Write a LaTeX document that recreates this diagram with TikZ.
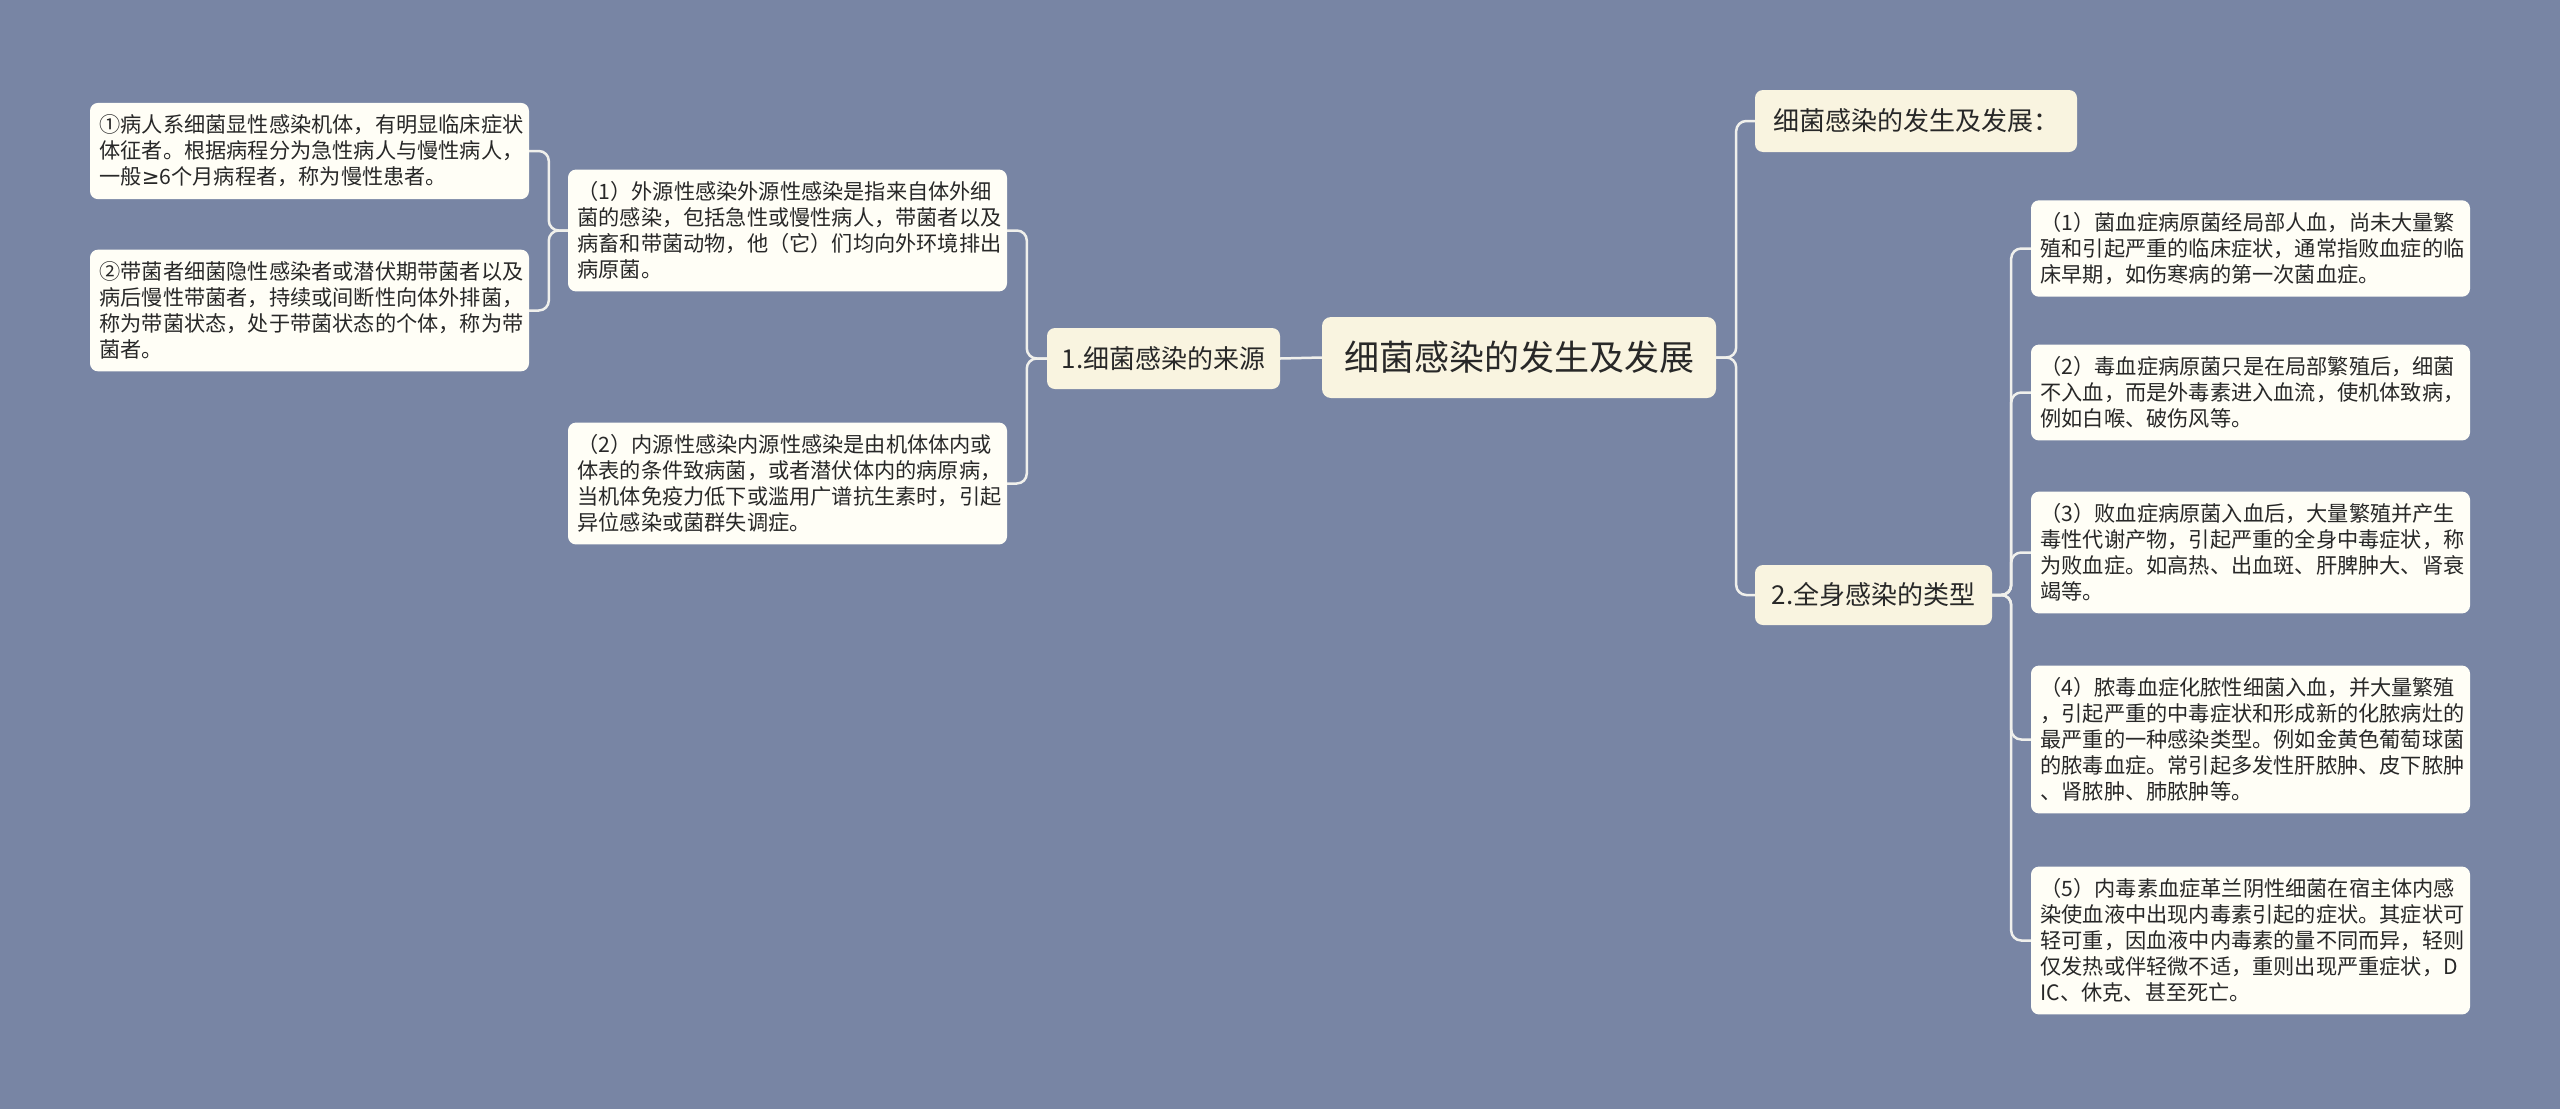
\documentclass[tikz,border=0pt]{standalone}
\usepackage{fontspec}
\newfontfamily\cjk{Noto Sans CJK SC}
\newfontfamily\symf{DejaVu Sans}
\definecolor{bg}{RGB}{120,133,164}
\definecolor{midfill}{RGB}{249,244,224}
\definecolor{leaffill}{RGB}{255,254,246}
\definecolor{linec}{RGB}{240,240,236}
\definecolor{txt}{RGB}{40,40,40}
\tikzset{
  leaf/.style={fill=leaffill, rounded corners=8pt, text width=420pt, inner xsep=9.5pt, inner ysep=12pt, align=left, text=txt, font=\cjk\fontsize{21.2}{26}\selectfont},
  mid/.style={fill=midfill, rounded corners=8pt, minimum height=61pt, inner xsep=12pt, text=txt, font=\cjk\fontsize{26}{30}\selectfont},
  rootbox/.style={fill=midfill, rounded corners=9pt, minimum width=394pt, minimum height=81pt, text=txt, font=\cjk\fontsize{35}{40}\selectfont},
  conn/.style={draw=linec, line width=2.5pt, rounded corners=10pt}
}
\begin{document}
\begin{tikzpicture}[x=1pt,y=1pt]
\path[fill=bg] (0,0) rectangle (2560,-1109);
\useasboundingbox (0,0) rectangle (2560,-1109);

\node[rootbox] (root) at (1519,-357.5) {细菌感染的发生及发展};
\node[mid, minimum width=233pt] (s1) at (1163.5,-358.5) {1.细菌感染的来源};
\node[mid, minimum width=322pt, minimum height=62pt] (t1) at (1916,-121) {细菌感染的发生及发展：};
\node[mid, minimum width=237pt, minimum height=60pt] (t2) at (1873.5,-595) {2.全身感染的类型};

\node[leaf] (a1) at (787.5,-230.5) {（1）外源性感染外源性感染是指来自体外细\\菌的感染，包括急性或慢性病人，带菌者以及\\病畜和带菌动物，他（它）们均向外环境排出\\病原菌。};
\node[leaf] (a2) at (787.5,-483.5) {（2）内源性感染内源性感染是由机体体内或\\体表的条件致病菌，或者潜伏体内的病原病，\\当机体免疫力低下或滥用广谱抗生素时，引起\\异位感染或菌群失调症。};
\node[leaf] (b1) at (309.5,-151) {①病人系细菌显性感染机体，有明显临床症状\\体征者。根据病程分为急性病人与慢性病人，\\一般{\symf ≥}6个月病程者，称为慢性患者。};
\node[leaf] (b2) at (309.5,-310.5) {②带菌者细菌隐性感染者或潜伏期带菌者以及\\病后慢性带菌者，持续或间断性向体外排菌，\\称为带菌状态，处于带菌状态的个体，称为带\\菌者。};

\node[leaf] (r1) at (2250.5,-248.5) {（1）菌血症病原菌经局部人血，尚未大量繁\\殖和引起严重的临床症状，通常指败血症的临\\床早期，如伤寒病的第一次菌血症。};
\node[leaf] (r2) at (2250.5,-392.5) {（2）毒血症病原菌只是在局部繁殖后，细菌\\不入血，而是外毒素进入血流，使机体致病，\\例如白喉、破伤风等。};
\node[leaf] (r3) at (2250.5,-552.5) {（3）败血症病原菌入血后，大量繁殖并产生\\毒性代谢产物，引起严重的全身中毒症状，称\\为败血症。如高热、出血斑、肝脾肿大、肾衰\\竭等。};
\node[leaf] (r4) at (2250.5,-739.5) {（4）脓毒血症化脓性细菌入血，并大量繁殖\\，引起严重的中毒症状和形成新的化脓病灶的\\最严重的一种感染类型。例如金黄色葡萄球菌\\的脓毒血症。常引起多发性肝脓肿、皮下脓肿\\、肾脓肿、肺脓肿等。};
\node[leaf] (r5) at (2250.5,-940.5) {（5）内毒素血症革兰阴性细菌在宿主体内感\\染使血液中出现内毒素引起的症状。其症状可\\轻可重，因血液中内毒素的量不同而异，轻则\\仅发热或伴轻微不适，重则出现严重症状，D\\IC、休克、甚至死亡。};

% connectors
\draw[conn] (root.west) -- (s1.east);
\draw[conn] (s1.west) -- ++(-20,0) |- (a1.east);
\draw[conn] (s1.west) -- ++(-20,0) |- (a2.east);
\draw[conn] (a1.west) -- ++(-19,0) |- (b1.east);
\draw[conn] (a1.west) -- ++(-19,0) |- (b2.east);
\draw[conn] (root.east) -- ++(20,0) |- (t1.west);
\draw[conn] (root.east) -- ++(20,0) |- (t2.west);
\draw[conn] (t2.east) -- ++(19,0) |- (r1.west);
\draw[conn] (t2.east) -- ++(19,0) |- (r2.west);
\draw[conn] (t2.east) -- ++(19,0) |- (r3.west);
\draw[conn] (t2.east) -- ++(19,0) |- (r4.west);
\draw[conn] (t2.east) -- ++(19,0) |- (r5.west);
\end{tikzpicture}
\end{document}
